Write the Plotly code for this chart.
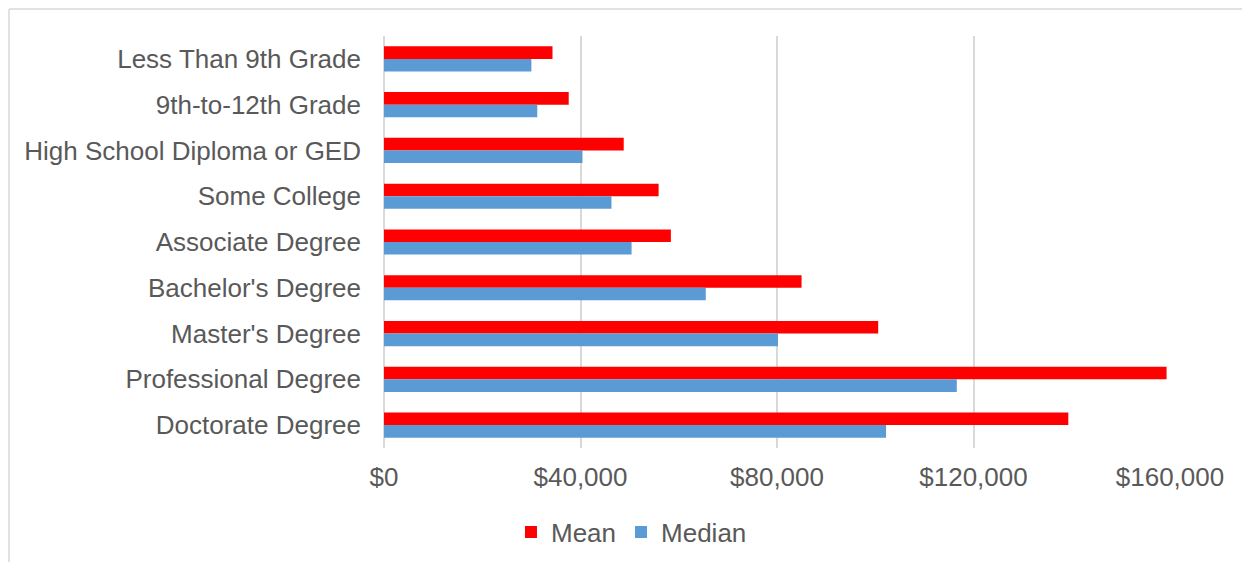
import plotly.graph_objects as go

categories = ["Less Than 9th Grade", "9th-to-12th Grade", "High School Diploma or GED",
              "Some College", "Associate Degree", "Bachelor's Degree", "Master's Degree",
              "Professional Degree", "Doctorate Degree"]
mean_income = [34300, 37600, 48800, 55900, 58400, 85000, 100600, 159300, 139300]
median_income = [30000, 31200, 40400, 46300, 50400, 65500, 80200, 116600, 102200]
x_ticks = [0, 40000, 80000, 120000, 160000]
x_tick_labels = ["$0", "$40,000", "$80,000", "$120,000", "$160,000"]

font_family = "Liberation Sans, Arial, sans-serif"
text_color = "#595959"

fig = go.Figure()
fig.add_trace(go.Bar(name="Mean", y=categories, x=mean_income, orientation="h",
                     marker=dict(color="#FF0000", line=dict(width=0))))
fig.add_trace(go.Bar(name="Median", y=categories, x=median_income, orientation="h",
                     marker=dict(color="#5B9BD5", line=dict(width=0))))

fig.update_layout(
    width=1242, height=554,
    margin=dict(l=376, r=80, t=28, b=114),
    paper_bgcolor="white", plot_bgcolor="white",
    barmode="group", bargap=0.45, bargroupgap=0,
    font=dict(family=font_family, size=26, color=text_color),
    showlegend=True,
    legend=dict(orientation="h", xref="container", yref="container",
                x=0.502, y=0.054, xanchor="center", yanchor="middle",
                font=dict(size=26, color=text_color), itemwidth=30,
                tracegroupgap=0, traceorder="normal"),
    shapes=[
        dict(type="line", xref="paper", yref="paper", x0=-0.4771, x1=1.2,
             y0=1.0655, y1=1.0655, line=dict(color="#d9d9d9", width=1.5)),
        dict(type="line", xref="paper", yref="paper", x0=-0.4771, x1=-0.4771,
             y0=1.0655, y1=-0.4, line=dict(color="#d9d9d9", width=1.5)),
    ],
)
fig.update_xaxes(range=[0, 160000], tickmode="array", tickvals=x_ticks, ticktext=x_tick_labels,
                 showgrid=True, gridcolor="#d9d9d9", gridwidth=1.5,
                 zeroline=True, zerolinecolor="#d9d9d9", zerolinewidth=1.5,
                 showline=False, ticks="", ticklabelstandoff=11,
                 tickfont=dict(size=26, color=text_color))
fig.update_yaxes(autorange="reversed", showgrid=False, showline=False, ticks="",
                 ticklabelstandoff=22, tickfont=dict(size=26, color=text_color))

fig.write_html("out.html")
